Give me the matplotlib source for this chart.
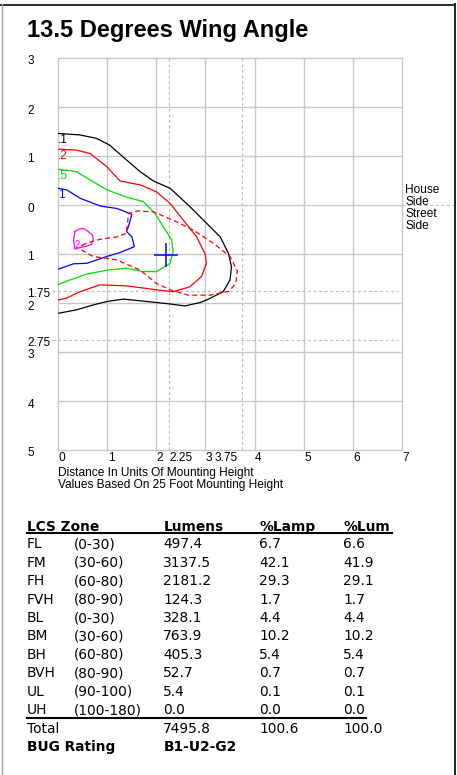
import matplotlib
matplotlib.use('Agg')
import matplotlib.pyplot as plt
from matplotlib.transforms import blended_transform_factory, offset_copy
from matplotlib.lines import Line2D

# ---------------- data ----------------
title = "13.5 Degrees Wing Angle"

x_tick_vals = [0, 1, 2, 2.25, 3, 3.75, 4, 5, 6, 7]
x_tick_labels = ['0', '1', '2', '2.25', '3', '3.75', '4', '5', '6', '7']
y_tick_vals = [3, 2, 1, 0, -1, -1.75, -2, -2.75, -3, -4, -5]
y_tick_labels = ['3', '2', '1', '0', '1', '1.75', '2', '2.75', '3', '4', '5']
x_grid = [1, 2, 3, 4, 5, 6]
y_grid = [-4, -3, -2, -1, 0, 1, 2]
x_dash = [2.25, 3.75]
y_dash = [-1.75, -2.75]

black_x = [0.0, 0.44, 0.78, 1.05, 1.39, 1.67, 1.94, 2.28, 2.68, 3.02, 3.30, 3.47, 3.53, 3.50,
           3.36, 3.02, 2.89, 2.58, 2.28, 2.00, 1.33, 0.99, 0.71, 0.37, 0.0]
black_y = [1.46, 1.43, 1.36, 1.22, 0.92, 0.68, 0.49, 0.34, -0.03, -0.37, -0.65, -0.99, -1.26, -1.53,
           -1.77, -1.94, -1.99, -2.06, -2.02, -1.99, -1.92, -1.97, -2.04, -2.14, -2.21]

red_x = [0.0, 0.37, 0.65, 0.99, 1.26, 1.67, 2.00, 2.28, 2.55, 2.82, 2.99, 3.02, 2.92, 2.68,
         2.34, 2.00, 1.39, 0.85, 0.44, 0.17, 0.0]
red_y = [1.14, 1.12, 1.05, 0.78, 0.49, 0.41, 0.27, 0.03, -0.31, -0.65, -0.99, -1.19, -1.46, -1.67,
         -1.77, -1.73, -1.65, -1.63, -1.77, -1.90, -1.94]

green_x = [0.0, 0.37, 0.65, 0.99, 1.39, 1.73, 1.97, 2.14, 2.31, 2.34, 2.28, 2.00, 1.73, 1.39,
           0.99, 0.58, 0.24, 0.0]
green_y = [0.73, 0.68, 0.51, 0.31, 0.16, 0.07, -0.17, -0.44, -0.71, -0.95, -1.19, -1.36, -1.36, -1.29,
           -1.33, -1.41, -1.53, -1.62]

blue_x = [0.0, 0.17, 0.44, 0.85, 1.19, 1.50, 1.43, 1.39, 1.50, 1.55, 1.26, 0.99, 0.58, 0.31, 0.0]
blue_y = [0.34, 0.31, 0.14, -0.02, -0.07, -0.19, -0.44, -0.54, -0.65, -0.85, -0.97, -1.05, -1.19, -1.20, -1.31]

dash_x = [0.48, 0.58, 0.85, 1.19, 1.38, 1.41, 1.43, 1.62, 1.94, 2.34, 2.75, 3.16, 3.50, 3.65, 3.62,
          3.48, 3.10, 2.65, 2.28, 2.00, 1.67, 1.19, 0.71, 0.48, 0.48]
dash_y = [-0.82, -0.78, -0.70, -0.65, -0.58, -0.40, -0.17, -0.12, -0.14, -0.31, -0.51, -0.78, -1.05, -1.35, -1.60,
          -1.76, -1.84, -1.84, -1.73, -1.60, -1.33, -1.12, -1.05, -0.92, -0.82]

mag_x = [0.34, 0.42, 0.51, 0.61, 0.70, 0.71, 0.68, 0.58, 0.48, 0.34, 0.31, 0.34]
mag_y = [-0.54, -0.49, -0.48, -0.54, -0.62, -0.70, -0.80, -0.84, -0.86, -0.90, -0.71, -0.54]

contour_labels = ['.1', '.2', '.5', '1']
cross_xy = (2.19, -1.02)
mag_label = ('2', 0.34, -0.81)

side_lines = ['House', 'Side', 'Street', 'Side']
caption_lines = ['Distance In Units Of Mounting Height', 'Values Based On 25 Foot Mounting Height']

headers = ['LCS Zone', 'Lumens', '%Lamp', '%Lum']
zones = ['FL', 'FM', 'FH', 'FVH', 'BL', 'BM', 'BH', 'BVH', 'UL', 'UH']
ranges = ['(0-30)', '(30-60)', '(60-80)', '(80-90)', '(0-30)', '(30-60)', '(60-80)', '(80-90)',
          '(90-100)', '(100-180)']
lumens = [497.4, 3137.5, 2181.2, 124.3, 328.1, 763.9, 405.3, 52.7, 5.4, 0.0]
pct_lamp = [6.7, 42.1, 29.3, 1.7, 4.4, 10.2, 5.4, 0.7, 0.1, 0.0]
pct_lum = [6.6, 41.9, 29.1, 1.7, 4.4, 10.2, 5.4, 0.7, 0.1, 0.0]
total_vals = [7495.8, 100.6, 100.0]
bug_rating = 'B1-U2-G2'

# ---------------- figure ----------------
W, H = 457, 775
fig = plt.figure(figsize=(W / 100, H / 100), dpi=100)
fig.patch.set_facecolor('white')


def fx(px):
    return px / W


def fy(py):
    return 1 - py / H


PF = 'Liberation Sans'
TF = 'DejaVu Sans'
GRID = '#c8c8c8'
DASHC = '#b8b8b8'

# outer frame
fig.add_artist(Line2D([fx(0), fx(455)], [fy(4.5), fy(4.5)], transform=fig.transFigure, color='#303030', lw=1.5))
fig.add_artist(Line2D([fx(454.5), fx(454.5)], [fy(4), fy(776)], transform=fig.transFigure, color='#202020', lw=1.4))
fig.add_artist(Line2D([fx(1.5), fx(1.5)], [fy(4), fy(776)], transform=fig.transFigure, color='#a0a0a0', lw=1.0))

fig.text(fx(26.7), fy(37.3), title, fontsize=17, fontweight='bold', family=PF, va='baseline', ha='left')

ax = fig.add_axes([fx(58.3), fy(450), 343.4 / W, 392 / H])
ax.set_xlim(0, 7)
ax.set_ylim(-5, 3)
ax.set_xticks([])
ax.set_yticks([])
for s in ax.spines.values():
    s.set_color(GRID)
    s.set_linewidth(1.0)

for gx in x_grid:
    ax.axvline(gx, color=GRID, lw=1.0, zorder=1)
for gy in y_grid:
    ax.axhline(gy, color=GRID, lw=1.0, zorder=1)
for dx in x_dash:
    ax.axvline(dx, color=DASHC, lw=0.8, ls=(0, (2.5, 2.5)), zorder=1)
for dy in y_dash:
    ax.plot([-0.13, 6.93], [dy, dy], color=DASHC, lw=0.8, ls=(0, (2.5, 2.5)), zorder=1, clip_on=False)
# House / Street separator extension
ax.plot([7.0, 8.1], [0, 0], color=DASHC, lw=0.8, ls=(0, (2.5, 2.5)), clip_on=False)

# tick labels
ytrans = offset_copy(blended_transform_factory(fig.transFigure, ax.transData), fig=fig, x=0, y=-3.5, units='dots')
for v, lab in zip(y_tick_vals, y_tick_labels):
    ax.text(fx(27.5), v, lab, transform=ytrans, fontsize=8.6, family=PF, ha='left', va='center')

xbase = blended_transform_factory(ax.transData, ax.transAxes)
for v, lab in zip(x_tick_vals, x_tick_labels):
    if lab == '3.75':
        tr = offset_copy(xbase, fig=fig, x=-5, y=-2, units='dots')
        ha = 'right'
    else:
        tr = offset_copy(xbase, fig=fig, x=0.5, y=-2, units='dots')
        ha = 'left'
    ax.text(v, 0, lab, transform=tr, fontsize=8.6, family=PF, ha=ha, va='top')

for i, line in enumerate(caption_lines):
    fig.text(fx(58.3), fy(476 + 12 * i), line, fontsize=8.6, family=PF, ha='left', va='baseline')

for i, line in enumerate(side_lines):
    fig.text(fx(405), fy(193 + 12 * i), line, fontsize=8.6, family=PF, ha='left', va='baseline')

# contours
LW = 0.9
kw = dict(lw=LW, zorder=3, solid_joinstyle='round', solid_capstyle='round')
ax.plot(black_x, black_y, color='black', **kw)
ax.plot(red_x, red_y, color='#ff0000', **kw)
ax.plot(green_x, green_y, color='#00dd00', **kw)
ax.plot(blue_x, blue_y, color='#0000ff', **kw)
ax.plot(dash_x, dash_y, color='#ff0000', lw=LW, ls=(0, (4, 2.5)), zorder=3)
ax.plot(mag_x, mag_y, color='#ff00ff', **kw)
ax.plot([cross_xy[0]], [cross_xy[1]], marker='+', markersize=17.5, mew=1.1, color='#0000ff', zorder=4)

lab_tr = offset_copy(ax.transData, fig=fig, x=0, y=-7, units='dots')
for lab, xs, ys, col in zip(contour_labels, [black_x, red_x, green_x, blue_x], [black_y, red_y, green_y, blue_y],
                            ['black', '#ff0000', '#00dd00', '#0000ff']):
    ax.text(xs[0], ys[0], lab, transform=lab_tr, color=col, fontsize=8.6, family=PF, ha='left', va='center')
ax.text(mag_label[1], mag_label[2], mag_label[0], color='#ff00ff', fontsize=7, family=PF, ha='left', va='center')

# ---------------- table ----------------
FS = 9.9
col_x = [26.7, 74, 163.3, 259.3, 343.3]
hdr_x = [26.7, 163.3, 259.3, 343.3]
for hx, h in zip(hdr_x, headers):
    fig.text(fx(hx), fy(531), h, fontsize=FS, fontweight='bold', family=TF, ha='left', va='baseline')
fig.add_artist(Line2D([fx(26.7), fx(391.7)], [fy(533.3), fy(533.3)], transform=fig.transFigure, color='black', lw=1.5))

row0, step = 548.3, 18.44
for i in range(len(zones)):
    yb = fy(row0 + step * i)
    vals = [zones[i], ranges[i], f"{lumens[i]:.1f}", f"{pct_lamp[i]:.1f}", f"{pct_lum[i]:.1f}"]
    for cx, v in zip(col_x, vals):
        fig.text(fx(cx), yb, v, fontsize=FS, family=TF, ha='left', va='baseline')
fig.add_artist(Line2D([fx(26.7), fx(366)], [fy(718.3), fy(718.3)], transform=fig.transFigure, color='black', lw=1.5))

yt = fy(row0 + step * len(zones))
fig.text(fx(col_x[0]), yt, 'Total', fontsize=FS, family=TF, ha='left', va='baseline')
for cx, v in zip(col_x[2:], total_vals):
    fig.text(fx(cx), yt, f"{v:.1f}", fontsize=FS, family=TF, ha='left', va='baseline')
yb = fy(row0 + step * (len(zones) + 1))
fig.text(fx(col_x[0]), yb, 'BUG Rating', fontsize=FS, fontweight='bold', family=TF, ha='left', va='baseline')
fig.text(fx(col_x[2]), yb, bug_rating, fontsize=FS, fontweight='bold', family=TF, ha='left', va='baseline')

fig.savefig('out.png', dpi=100, facecolor='white')
